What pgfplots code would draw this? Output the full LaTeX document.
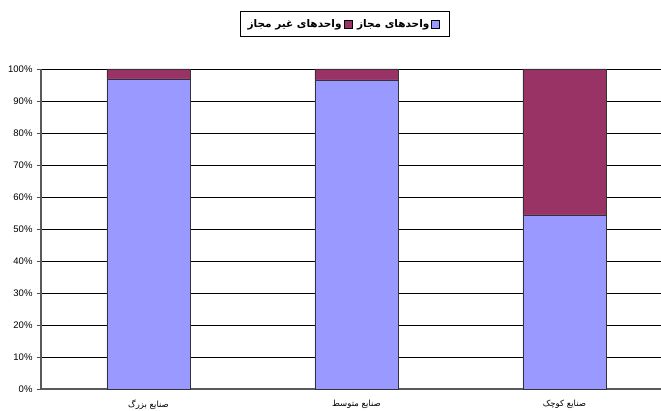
\documentclass[border=0pt]{standalone}
\usepackage{fontspec}
\setmainfont{Liberation Sans}
\newfontfamily\arabicfont[Script=Arabic]{DejaVu Sans}
\TeXXeTstate=1
\usepackage{pgfplots}
\pgfplotsset{compat=1.18}
\definecolor{exblue}{HTML}{9999FF}
\definecolor{exmaroon}{HTML}{993366}
\begin{document}
\begin{tikzpicture}
\useasboundingbox (0,0) rectangle (661bp,411bp);
\begin{axis}[
  at={(41bp,22bp)}, anchor=south west,
  scale only axis,
  width=620bp, height=320bp,
  ybar stacked,
  bar width=0.4,
  xmin=-0.517, xmax=2.464,
  ymin=0, ymax=100,
  xtick={0,1,2},
  xticklabels={
    {\beginR صنایع بزرگ\endR},
    {\beginR صنایع متوسط\endR},
    {\beginR صنایع کوچک\endR}},
  x tick label style={font=\arabicfont\fontsize{8.5bp}{10bp}\selectfont, yshift=-3.5bp},
  xtick style={draw=none},
  extra x ticks={0.5,1.5},
  extra x tick labels={},
  extra x tick style={tick style={draw=black!70, line width=0.8bp}, major tick length=5bp, tick align=outside},
  ytick={0,10,...,100},
  yticklabel={\pgfmathprintnumber{\tick}\%},
  /pgf/number format/assume math mode=true,
  y tick label style={font=\fontsize{9.5bp}{11bp}\selectfont, xshift=-1bp},
  ytick style={draw=black!70, line width=0.8bp},
  major tick length=4bp,
  tick align=outside,
  ymajorgrids,
  major grid style={draw=black, line width=0.8bp},
  axis x line*=bottom,
  axis y line*=left,
  axis line style={draw=black!65, line width=1.2bp, -},
  clip=false,
  legend columns=-1,
  legend style={at={(0.49,1)}, anchor=south, yshift=32bp,
    draw=black, line width=0.8bp, inner xsep=2bp, inner ysep=6bp,
    font=\arabicfont\bfseries\fontsize{10.5bp}{12bp}\selectfont,
    /tikz/every odd column/.append style={column sep=3bp},
    /tikz/every even column/.append style={column sep=0bp}},
  legend image code/.code={\draw[#1, draw=black, line width=0.6bp] (0bp,-4bp) rectangle (8bp,4bp);},
]
\addlegendimage{empty legend}
\addlegendentry{\beginR واحدهای غیر مجاز\endR}
\addlegendimage{fill=exmaroon}
\addlegendentry{\beginR واحدهای مجاز\endR}
\addlegendimage{fill=exblue}
\addlegendentry{}
\addplot[fill=exblue, draw=black!80, line width=0.6bp, forget plot] coordinates {(0,96.9) (1,96.6) (2,54.4)};
\addplot[fill=exmaroon, draw=black!80, line width=0.6bp, forget plot] coordinates {(0,3.1) (1,3.4) (2,45.6)};
\end{axis}
\end{tikzpicture}
\end{document}
